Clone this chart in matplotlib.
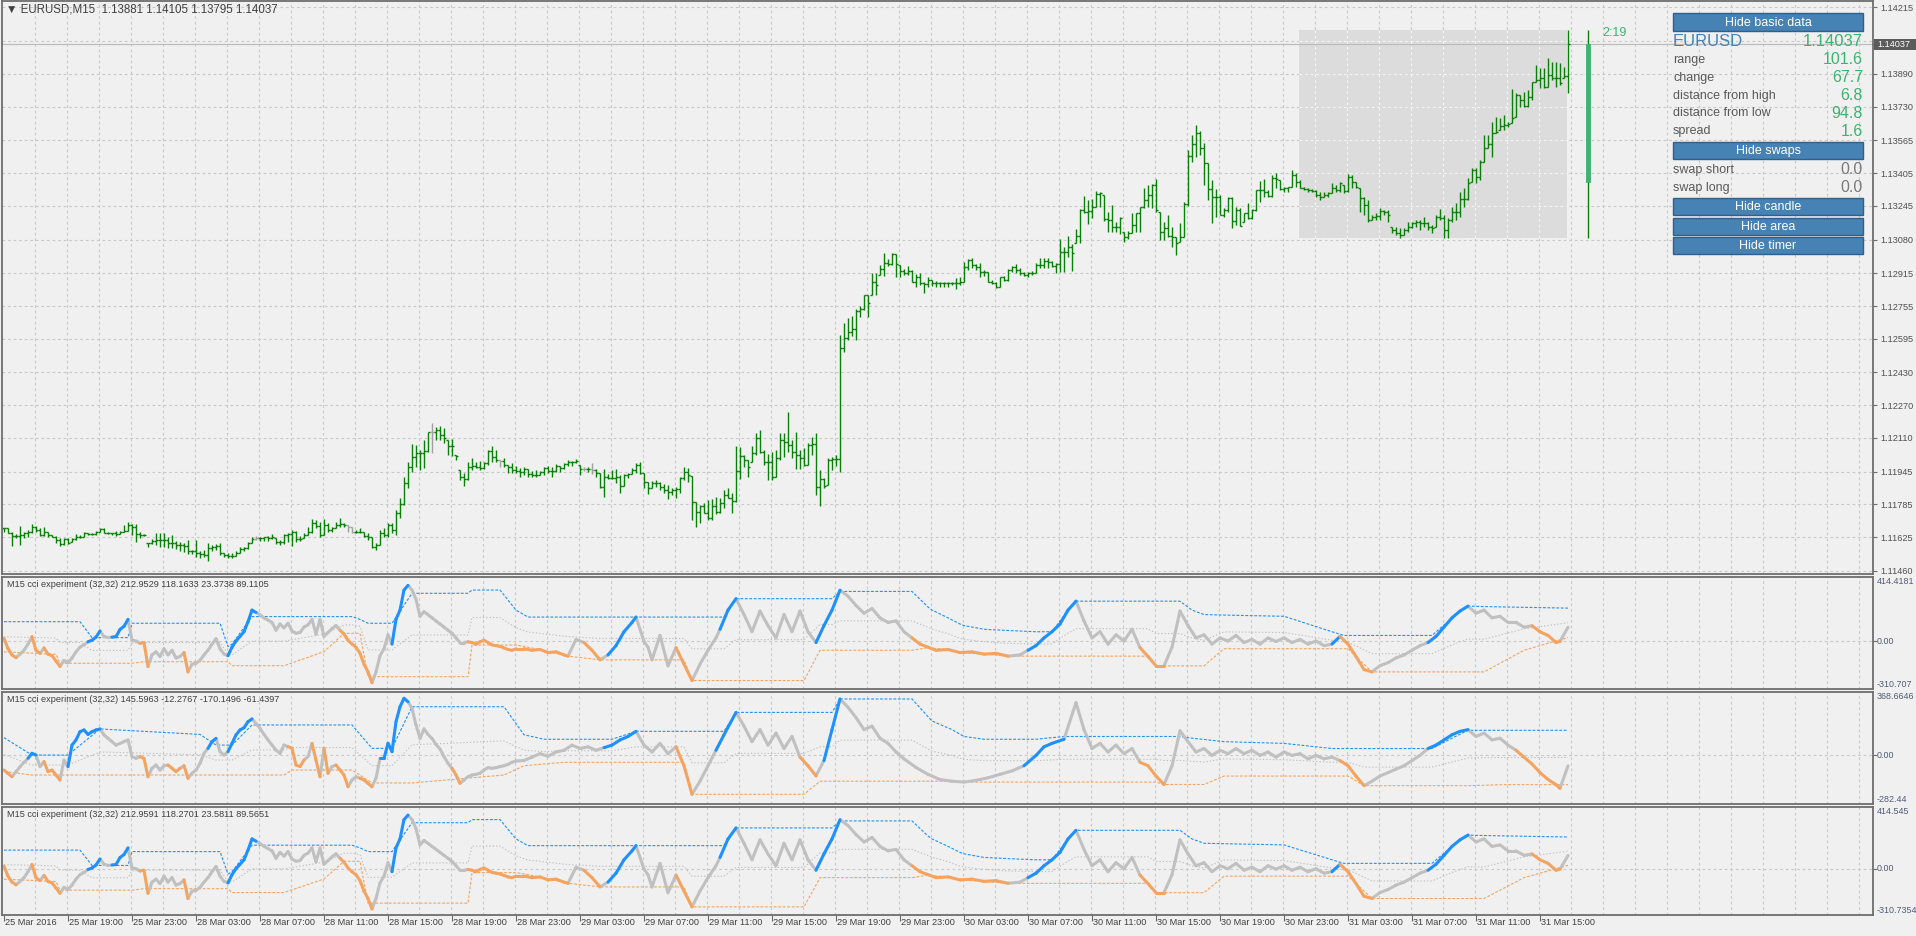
import numpy as np
import matplotlib.pyplot as plt
from matplotlib.collections import LineCollection
from matplotlib.patches import Rectangle
from matplotlib.transforms import blended_transform_factory

plt.rcParams['font.family'] = ['Liberation Sans', 'DejaVu Sans']

# ---------------- data ----------------
# EURUSD M15 bars, prices in pips above 1.1100
high = [67.2,66.9,65.2,63.9,68.0,65.2,66.0,69.0,68.0,67.2, 67.4,65.2,63.6,63.1,62.0,62.3,62.3,62.3,64.1,63.6,
        65.1,64.4,64.4,65.7,67.2,66.9,65.2,64.7,65.5,65.5, 68.5,69.9,69.0,69.0,64.9,64.1,59.8,61.5,64.4,64.4,
        64.4,62.8,63.6,60.8,60.3,59.5,61.2,56.3,61.2,55.5, 56.3,59.5,58.7,59.0,59.5,55.0,54.6,54.6,55.8,57.9,
        57.9,60.3,62.8,63.1,62.8,62.8,63.1,63.9,61.9,61.2, 64.1,64.4,66.0,65.7,63.1,64.4,67.7,71.4,70.9,70.1,
        71.6,69.3,67.7,70.1,71.7,69.6,68.5,67.4,66.0,66.9, 65.2,64.4,62.8,59.5,66.0,66.9,69.3,69.3,75.8,81.5,
        92.1,99.4,107.9,107.6,105.1,
        110.0,114.1,118.5,116.5,116.8,115.7,110.0,110.4,102.7,95.4, 94.1,99.4,101.1,99.4,99.9,99.4,105.1,107.1,105.1,100.3,
        101.1,97.8,99.0,97.3,96.2,97.0,95.7,95.0,95.4,95.0, 96.7,97.3,96.7,98.3,97.3,98.6,100.3,99.8,100.6,97.8,
        96.7,96.7,98.6,95.7,94.1,95.7,93.4,95.4,95.7,92.9, 93.4,94.1,96.2,98.6,99.4,93.7,89.6,90.2,90.5,89.6,
        88.5,88.0,86.4,86.9,92.1,97.0,96.2,92.4,79.9,78.3, 79.1,80.7,81.0,82.3,81.5,85.6,86.4,84.0,107.1,106.8,
        102.7,100.3,107.1,113.3,114.9,105.1,103.2,104.3,105.1,113.6, 113.3,123.9,110.0,114.1,105.1,106.0,108.4,111.6,113.6,95.4,
        91.3,101.1,101.6,102.7,161.3,
        167.0,
        169.5,170.6,173.9,175.5,180.9,180.9,191.5,191.5,195.6,201.3, 198.3,201.3,200.9,195.6,193.4,195.1,193.1,191.2,191.5,187.4,
        189.9,188.2,187.9,187.4,187.4,187.4,187.4,189.0,189.5,197.2, 198.3,198.8,196.1,196.7,193.1,192.3,188.2,187.4,189.9,190.2,
        193.4,195.1,196.1,193.9,192.3,192.3,192.8,196.7,198.8,198.8, 198.8,197.7,196.4,208.1,204.5,209.7,205.8,213.0,222.8,229.3,
        227.3,227.6,231.9,231.4,229.8,221.6,224.9,216.7,218.9,211.9, 212.3,220.8,220.8,224.1,233.0,234.7,235.2,237.4,221.6,216.7,
        220.0,214.3,209.4,215.9,226.5,251.8,259.1,264.0,261.2,255.0, 245.6,237.1,232.5,229.8,223.3,228.6,228.6,224.1,223.3,221.2,
        225.7,222.8,232.2,236.8,
        237.6,232.2,239.6,240.4,237.1,233.8,233.8,242.0,240.4,
        237.1,233.8,233.0,232.5,232.2,231.4,231.4,231.4,235.5,234.7, 236.3,234.7,240.0,239.5,236.3,233.0,228.9,227.3,220.0,220.8,
        223.3,222.4,222.4,214.3,214.3,213.5,213.5,216.7,216.7,217.5, 217.5,219.2,216.7,215.1,220.0,222.8,220.0,218.4,224.1,225.7,
        231.4,233.0,237.9,242.8,242.8,246.9,259.1,259.1,265.6,268.1, 267.2,268.9,265.6,281.4,279.5,278.6,280.3,281.1,285.2,293.3,
        291.7,291.7,296.6,295.0,295.0,294.1,292.5,310.5]
low = [65.2,64.4,58.4,62.0,58.7,62.0,62.8,64.7,65.2,63.3, 63.3,62.8,62.5,59.8,58.4,58.7,59.0,60.3,61.2,62.3,
       62.8,63.6,63.6,63.6,65.2,64.4,64.1,63.6,63.3,64.1, 64.9,65.7,63.6,60.3,62.3,63.3,57.6,59.2,58.7,57.9,
       57.9,57.1,57.4,56.8,55.5,55.1,54.3,54.3,52.7,52.2, 53.0,51.0,55.5,56.3,53.8,53.0,52.5,52.2,53.5,54.6,
       55.9,56.6,59.5,61.2,60.8,60.8,60.8,61.5,59.2,58.7, 59.2,60.3,58.4,60.3,60.7,62.0,63.6,64.4,66.9,62.8,
       63.6,65.2,65.2,66.9,67.7,67.7,64.9,64.4,64.4,64.7, 62.8,61.2,57.1,56.0,58.7,62.8,62.8,64.4,63.6,71.7,
       78.3,86.4,94.6,97.0,95.4,
       96.2,104.3,103.8,110.0,110.0,108.4,102.7,102.2,100.3,90.5, 87.5,90.5,95.4,96.2,95.4,95.7,97.8,99.4,99.4,96.6,
       96.6,94.1,94.1,94.1,92.1,92.9,91.8,92.1,91.8,92.9, 92.9,94.1,92.1,94.6,94.6,95.7,97.3,97.3,98.6,92.9,
       95.0,94.6,93.4,92.1,86.4,82.3,90.8,90.8,88.9,84.3, 87.5,91.3,93.4,94.1,93.3,86.4,83.5,86.4,87.2,85.6,
       84.0,81.0,83.2,81.5,84.0,90.5,89.6,71.0,67.4,69.3, 74.2,71.0,71.0,73.9,74.2,76.6,81.5,74.2,79.9,90.8,
       97.0,92.1,99.4,102.7,103.8,97.8,90.5,90.5,92.1,100.3, 101.6,104.3,101.1,95.7,95.7,97.3,97.8,102.7,83.2,77.8,
       86.4,88.0,95.4,97.3,94.6,
       153.0,
       158.9,160.9,158.9,170.3,173.6,170.0,180.9,180.9,190.7,190.2, 195.1,195.6,189.9,189.9,190.7,190.7,187.0,184.6,185.8,181.7,
       185.0,185.3,185.0,184.6,185.0,185.0,185.8,183.7,185.8,187.4, 193.1,193.9,193.1,189.9,190.2,187.4,186.3,184.5,184.6,187.9,
       187.9,192.3,191.5,190.7,190.2,189.5,190.7,191.5,193.9,193.9, 193.9,194.4,191.5,192.3,192.3,199.6,192.8,206.5,206.5,220.8,
       215.6,218.4,223.7,223.7,217.2,211.9,211.9,211.9,210.7,207.0, 208.1,211.0,211.9,211.9,223.3,223.7,223.3,221.6,207.8,207.8,
       209.1,204.2,200.5,207.0,209.1,224.4,246.1,248.2,249.3,234.7, 227.3,216.3,219.2,220.0,218.9,221.6,213.5,215.1,214.6,216.7,
       217.9,217.9,222.1,226.5,
       229.0,229.0,229.0,233.0,232.2,231.4,231.4,233.8,233.8,
       233.0,232.2,231.4,231.4,229.0,227.3,229.0,229.0,230.6,231.4, 231.4,230.6,231.4,233.0,233.0,221.6,220.0,216.7,217.5,217.5,
       217.5,220.0,216.7,211.0,210.2,208.6,210.2,211.9,213.5,214.3, 212.7,214.3,212.7,211.0,214.3,217.5,208.9,208.9,216.7,217.5,
       219.2,224.1,227.3,236.3,235.5,237.1,246.1,252.6,248.5,259.9, 261.5,261.5,263.2,264.8,268.1,272.9,272.9,272.9,276.2,285.2,
       281.9,281.9,282.7,286.0,282.7,283.5,286.8,279.5]
close = [66.9,64.7,63.1,63.1,63.6,64.4,65.2,67.7,66.0,63.6, 65.2,63.6,62.8,61.2,59.2,61.5,59.5,61.5,62.8,62.8,
         64.4,64.1,64.1,65.2,66.5,64.7,64.4,64.4,63.9,65.2, 65.5,68.5,67.7,63.9,63.6,63.6,59.5,60.8,61.2,61.2,
         61.2,59.5,59.5,58.7,58.7,58.4,55.5,55.5,54.6,54.3, 53.8,57.1,57.9,58.4,55.0,53.8,53.3,53.3,55.0,56.6,
         57.1,59.5,61.5,62.0,62.0,62.5,62.0,62.5,60.3,60.3, 63.6,63.9,65.2,61.5,61.5,63.6,65.2,69.3,68.0,63.6,
         68.5,66.0,66.9,68.5,69.0,68.5,67.7,65.2,65.2,65.2, 63.1,62.8,57.9,58.7,64.4,63.6,68.5,66.0,74.2,78.6,
         88.9,97.0,101.9,103.5,103.5,
         104.8,113.8,114.1,114.9,112.5,110.8,107.1,107.1,102.2,92.1, 90.8,97.0,97.3,97.0,96.2,98.6,104.8,101.9,100.3,99.8,
         97.8,97.0,95.4,94.9,94.6,95.7,93.3,92.9,92.9,94.6, 96.2,95.0,95.0,97.3,96.2,98.3,99.4,99.4,99.8,95.7,
         95.7,95.7,95.4,93.7,86.9,92.1,91.3,91.3,92.1,87.5, 92.9,93.4,95.4,97.8,93.7,89.6,86.4,88.9,88.9,87.2,
         85.6,84.8,85.6,85.9,91.3,94.6,92.9,79.9,75.0,77.5, 74.5,71.8,77.5,75.0,79.1,83.2,81.5,80.4,95.0,102.2,
         100.3,96.7,103.5,110.8,104.3,99.4,99.4,92.1,101.1,110.0, 109.2,107.6,104.3,102.7,101.1,97.8,107.6,108.1,87.2,90.8,
         87.5,100.3,100.6,100.6,155.0,
         160.0,
         163.0,164.1,173.2,173.9,180.9,176.8,187.4,185.8,193.4,196.7, 196.1,200.9,196.1,192.8,191.5,192.8,187.4,189.9,186.6,186.3,
         188.2,186.9,186.6,186.6,186.9,186.6,186.6,186.6,187.4,194.8, 198.0,195.6,194.8,192.3,192.3,187.4,186.9,185.0,189.9,188.2,
         193.1,194.8,193.1,191.5,190.7,191.5,191.8,195.6,195.6,197.7, 197.2,195.1,196.1,202.1,202.1,204.5,201.6,209.7,222.4,221.6,
         222.1,223.7,230.3,230.9,217.9,217.6,214.0,214.3,218.4,209.4, 211.4,215.1,220.8,223.7,227.3,229.8,234.7,222.4,211.9,213.5,
         209.7,209.4,206.5,209.1,225.4,248.8,254.7,259.9,252.6,245.6, 232.5,228.9,228.6,220.0,222.4,228.1,217.2,222.4,214.6,220.8,
         218.4,222.4,232.2,232.2,
         231.4,229.3,238.2,237.4,232.5,233.4,233.5,239.6,236.0,
         233.0,232.5,232.2,231.9,229.8,229.0,229.8,230.9,233.0,232.2, 235.8,231.9,238.7,236.3,233.5,228.1,224.9,217.5,219.2,219.5,
         222.1,221.6,220.0,212.7,211.0,210.2,212.7,214.3,215.9,216.7, 215.9,216.3,214.3,213.5,219.2,218.4,212.7,217.5,221.6,221.6,
         227.7,227.7,235.5,242.0,238.7,246.1,252.6,254.7,260.2,260.7, 263.5,264.0,264.5,267.2,278.6,276.2,273.3,277.5,285.0,286.0,
         286.8,282.4,288.4,286.8,286.8,284.3,288.1,303.7]
doji_bars = [63, 86, 87, 107, 124, 145, 147]
day_start = 324           # 31 Mar 00:00
candle_bar = 396          # day candle drawn right of the last bar

time_labels = ['25 Mar 2016', '25 Mar 19:00', '25 Mar 23:00', '28 Mar 03:00', '28 Mar 07:00',
               '28 Mar 11:00', '28 Mar 15:00', '28 Mar 19:00', '28 Mar 23:00', '29 Mar 03:00',
               '29 Mar 07:00', '29 Mar 11:00', '29 Mar 15:00', '29 Mar 19:00', '29 Mar 23:00',
               '30 Mar 03:00', '30 Mar 07:00', '30 Mar 11:00', '30 Mar 15:00', '30 Mar 19:00',
               '30 Mar 23:00', '31 Mar 03:00', '31 Mar 07:00', '31 Mar 11:00', '31 Mar 15:00']
price_ticks = [1.14215, 1.13890, 1.13730, 1.13565, 1.13405, 1.13245, 1.13080, 1.12915, 1.12755,
               1.12595, 1.12430, 1.12270, 1.12110, 1.11945, 1.11785, 1.11625, 1.11460]
hidden_grid = 1.14052
last_price = 1.14037

# CCI panel 1 (panel 3 shows practically the same values): one value per bar up to bar 128 ...
cci1_head = [17,-50,-90,-108,-85,-60,-20,28,-60,-80, -45,-85,-95,-130,-165,-125,-140,-110,-70,-40,
             -25,-5,5,25,65,30,22,25,28,75, 95,140,5,0,-15,-10,-165,-90,-70,-100,
             -50,-90,-60,-110,-100,-75,-200,-150,-145,-125, -90,-60,-20,15,-50,-85,-95,-40,0,30,
             60,125,200,185,170,150,135,120,70,110, 85,115,65,50,55,90,105,140,45,140,
             30,55,80,100,70,45,5,-20,-40,-80, -150,-200,-270,-200,-95,-50,40,-20,140,200,
             330,360,330,270,160,190,170,150,130,110, 90,70,50,20,-10,-10,-5,-10,-20,-5,
             5,-10,-25,-30,-35,-45,-55,-60,-50]
cci1_head_cols = ('goooggggoo' 'gooooggggg' 'ggbbbgggbb' 'bbgggooggg' 'ggggggoggg' 'gggggggbbb'
                  'bbbbgggggg' 'gggggggggg' 'gggggooooo' 'ooogggggbb' 'bbgggggggg' 'gggggggooo'
                  'ooooooooo')
# ... then turning points (bar, value, colour)
cci1_tail = [(130,-50,'o'),(132,-60,'o'),(134,-55,'o'),(136,-75,'o'),(138,-70,'o'),(140,-90,'o'),
             (141,-98,'o'),(143,10,'g'),(145,-10,'g'),(147,-60,'o'),(149,-122,'o'),(151,-90,'g'),
             (153,-30,'b'),(155,60,'b'),(157,120,'b'),(158,155,'b'),(160,-3,'g'),(161,-40,'g'),
             (162,-122,'g'),(164,36,'g'),(166,-161,'g'),(168,-43,'g'),(170,-150,'o'),(172,-256,'o'),
             (174,-150,'g'),(176,-60,'g'),(178,20,'g'),(179,76,'g'),(181,200,'b'),(183,274,'b'),
             (185,171,'g'),(187,60,'g'),(189,194,'g'),(191,99,'g'),(193,20,'g'),(195,171,'g'),
             (197,60,'g'),(199,194,'g'),(201,60,'g'),(203,-10,'g'),(205,100,'b'),(207,200,'b'),
             (209,329,'b'),(211,290,'g'),(213,230,'g'),(215,180,'g'),(217,210,'g'),(219,150,'g'),
             (221,120,'g'),(223,130,'g'),(225,60,'g'),(227,20,'g'),(229,-20,'o'),(231,-40,'o'),
             (233,-60,'o'),(236,-55,'o'),(239,-75,'o'),(242,-70,'o'),(245,-85,'o'),(248,-80,'o'),
             (251,-98,'o'),(254,-90,'g'),(256,-60,'g'),(258,-30,'b'),(260,20,'b'),(262,60,'b'),
             (264,110,'b'),(266,200,'b'),(268,258,'b'),(270,130,'g'),(272,20,'g'),(274,60,'g'),
             (276,-20,'g'),(278,40,'g'),(280,0,'g'),(282,76,'g'),(284,-43,'g'),(286,-100,'o'),
             (288,-161,'o'),(290,-161,'o'),(292,-40,'g'),(294,194,'g'),(296,100,'g'),(298,20,'g'),
             (300,40,'g'),(302,-20,'g'),(304,20,'g'),(306,0,'g'),(308,36,'g'),(310,-10,'g'),
             (312,10,'g'),(314,-20,'g'),(316,20,'g'),(318,-3,'g'),(320,20,'g'),(322,-10,'g'),
             (324,10,'g'),(326,-20,'g'),(328,0,'g'),(330,-30,'g'),(332,-20,'g'),(334,30,'b'),
             (336,-20,'o'),(338,-100,'o'),(340,-185,'o'),(342,-200,'o'),(344,-160,'g'),(346,-140,'g'),
             (348,-110,'g'),(350,-90,'g'),(352,-60,'g'),(354,-30,'g'),(356,-10,'g'),(358,30,'b'),
             (360,90,'b'),(362,150,'b'),(364,194,'b'),(366,226,'b'),(368,180,'g'),(370,200,'g'),
             (372,150,'g'),(374,160,'g'),(376,120,'g'),(378,120,'g'),(380,90,'g'),(382,99,'g'),
             (384,60,'o'),(386,36,'o'),(388,-10,'o'),(389,-3,'o'),(391,89,'g')]
# bands of panel 1: (bar, upper, lower)
band1 = [(0,125,-70),(13,125,-86),(14,125,-144),(19,125,-144),(22,22,-144),(31,22,-144),(32,115,-144),
         (35,115,-134),(54,115,-134),(56,-36,-134),(57,-20,-160),(62,158,-160),(70,158,-160),(80,158,-69),
         (85,158,50),(87,158,50),(89,140,50),(91,115,-231),(97,115,-231),(102,309,-231),(116,309,-231),
         (117,330,-26),(124,330,-26),(128,200,-26),(131,155,-40),(133,155,-50),(141,155,-98),(149,155,-122),
         (158,155,-122),(170,155,-122),(172,155,-256),(180,155,-256),(183,274,-256),(200,274,-256),
         (204,274,-60),(207,274,-60),(209,321,-60),(227,321,-60),(231,220,-43),(232,200,-46),(236,150,-55),
         (239,110,-75),(240,100,-77),(245,76,-85),(251,68,-98),(258,60,-98),(262,60,-98),(266,200,-98),
         (268,258,-98),(286,258,-98),(288,258,-161),(294,258,-161),(297,200,-161),(300,171,-161),
         (305,168,-50),(320,160,-50),(332,60,-50),(335,36,-50),(336,36,-50),(338,36,-100),(342,36,-200),
         (357,36,-200),(362,150,-200),(366,226,-200),(370,223,-200),(380,218,-60),(391,213,23)]

# CCI panel 2
cci2_head = [-85,-105,-124,-95,-66,-40,-17,12,2,-65, -36,-94,-85,-114,-143,-27,-65,60,90,138,
             148,122,138,148,154,119,99,80,60,70, 80,90,-7,-17,-7,-17,-124,-75,-56,-85,
             -60,-56,-75,-94,-75,-60,-133,-104,-85,-46, 12,41,80,99,22,2,22,70,119,148,
             161,196,212,186,157,122,90,60,31,12, 60,51,41,-56,-65,-27,-7,70,-27,-124,
             41,-104,-65,-56,-85,-114,-182,-143,-124,-133, -143,-162,-182,-133,-17,-17,70,22,196,283,
             332,312,274,177,99,154,122,99,64,37, -7,-46,-75,-114,-162,-143,-124,-114,-110,-104,
             -85,-71,-75,-71,-65,-60,-52,-40,-32]
cci2_head_cols = ('googgggbbg' 'gooooggbbb' 'bbbbbggggg' 'gggggooggg' 'ggooogoggg' 'ggbbgggbbb'
                  'bbbggggggg' 'ggooooggoo' 'goggoooggg' 'oooggbbbbb' 'bbgggggggg' 'gggooggggg'
                  'ggggggggg')
cci2_tail = [(130,-30,'g'),(132,-10,'g'),(134,10,'g'),(136,-5,'g'),(138,20,'g'),(140,30,'g'),
             (142,60,'g'),(144,40,'g'),(146,50,'g'),(148,30,'g'),(150,45,'g'),(152,60,'b'),
             (154,90,'b'),(156,110,'b'),(158,140,'b'),(160,60,'g'),(162,20,'g'),(164,70,'g'),
             (166,10,'g'),(168,50,'g'),(170,-60,'o'),(172,-226,'o'),(174,-150,'g'),(176,-60,'g'),
             (178,30,'g'),(180,120,'b'),(183,250,'b'),(185,170,'g'),(187,80,'g'),(189,150,'g'),
             (191,60,'g'),(193,130,'g'),(195,40,'g'),(197,110,'g'),(199,-10,'g'),(201,-60,'o'),
             (203,-119,'o'),(205,-30,'g'),(207,150,'b'),(209,328,'b'),(211,280,'g'),(213,220,'g'),
             (215,150,'g'),(217,170,'g'),(219,100,'g'),(221,70,'g'),(223,20,'g'),(225,-20,'g'),
             (228,-70,'g'),(231,-110,'g'),(234,-140,'g'),(237,-150,'g'),(240,-155,'g'),(243,-145,'g'),
             (246,-130,'g'),(249,-110,'g'),(252,-90,'g'),(255,-60,'g'),(258,0,'b'),(260,50,'b'),
             (262,70,'b'),(265,94,'b'),(268,307,'g'),(270,150,'g'),(272,40,'g'),(274,70,'g'),
             (276,20,'g'),(278,60,'g'),(280,10,'g'),(282,40,'g'),(284,-40,'g'),(286,-60,'o'),
             (288,-120,'o'),(290,-169,'o'),(292,-60,'g'),(294,143,'g'),(296,80,'g'),(298,20,'g'),
             (300,40,'g'),(302,0,'g'),(304,30,'g'),(306,10,'g'),(308,40,'g'),(310,10,'g'),
             (312,30,'g'),(314,0,'g'),(316,20,'g'),(318,-10,'g'),(320,20,'g'),(322,0,'g'),
             (324,10,'g'),(326,-20,'g'),(328,0,'g'),(330,-20,'g'),(332,-10,'g'),(334,-30,'g'),
             (336,-60,'o'),(338,-120,'o'),(340,-176,'o'),(342,-150,'g'),(344,-120,'g'),(346,-100,'g'),
             (348,-80,'g'),(350,-60,'g'),(352,-30,'g'),(354,0,'g'),(356,40,'g'),(358,60,'b'),
             (360,90,'b'),(362,120,'b'),(364,140,'b'),(366,150,'b'),(368,110,'g'),(370,130,'g'),
             (372,90,'g'),(374,100,'g'),(376,60,'g'),(378,30,'g'),(380,-10,'o'),(382,-50,'o'),
             (384,-100,'o'),(386,-140,'o'),(388,-170,'o'),(389,-191,'o'),(391,-61,'g')]
band2 = [(0,103,-94),(7,2,-114),(16,2,-114),(24,154,-114),(49,122,-114),(53,60,-114),(57,60,-114),
         (62,177,-114),(70,177,-114),(72,177,-85),(87,177,-85),(92,41,-160),(97,41,-160),(102,283,-160),
         (125,283,-114),(130,120,-60),(135,94,-50),(140,94,-40),(152,94,-40),(158,140,-40),(170,140,-40),
         (172,140,-226),(180,140,-226),(183,250,-226),(200,250,-226),(204,250,-150),(207,250,-150),
         (209,328,-150),(225,328,-150),(227,328,-150),(232,200,-150),(237,150,-150),(240,110,-155),
         (245,94,-155),(258,94,-155),(265,110,-155),(288,110,-155),(290,110,-169),(294,110,-169),
         (297,100,-169),(300,93,-169),(305,80,-120),(320,70,-120),(332,40,-120),(336,40,-120),
         (340,40,-176),(357,40,-176),(362,100,-176),(366,146,-176),(375,146,-170),(391,146,-170)]

panel_titles = ['M15 cci experiment (32,32) 212.9529 118.1633 23.3738 89.1105',
                'M15 cci experiment (32,32) 145.5963 -12.2767 -170.1496 -61.4397',
                'M15 cci experiment (32,32) 212.9591 118.2701 23.5811 89.5651']
panel_ranges = [(-310.707, 414.4181), (-282.44, 368.6646), (-310.7354, 414.545)]
panel_max_text = ['414.4181', '368.6646', '414.545']
panel_min_text = ['-310.707', '-282.44', '-310.7354']

info_labels = ['range', 'change', 'distance from high', 'distance from low', 'spread']
info_values = ['101.6', '67.7', '6.8', '94.8', '1.6']
swap_labels = ['swap short', 'swap long']
swap_values = ['0.0', '0.0']
timer_text = '2:19'

# ---------------- style ----------------
W, H = 1916, 936
BG = '#f0f0f0'
GRID = '#c9c9c9'
FRAME = '#6e6e6e'
BARC = '#0a7d0a'
TXT = '#505050'
BLUE = '#1e90ff'
ORANGE = '#f4a460'
GREY = '#c0c0c0'
GREEN = '#3cb371'
STEEL = '#4682b4'
colmap = {'g': GREY, 'b': BLUE, 'o': ORANGE}
FS = 6.6
XMIN, XMAX = -0.5, 467.25
DASH = (0, (2.5, 2.5))

fig = plt.figure(figsize=(W / 100, H / 100), dpi=100, facecolor=BG)


def rect(x0, y0, x1, y1):
    return [x0 / W, 1 - y1 / H, (x1 - x0) / W, (y1 - y0) / H]


def ftext(x, y, s, **kw):
    fig.text(x / W, 1 - y / H, s, **kw)


vgrid = np.arange(8, XMAX, 8) - 0.25


def frame(ax):
    ax.set_facecolor(BG)
    for sp in ax.spines.values():
        sp.set_color(FRAME)
        sp.set_linewidth(1.3)
    ax.set_xlim(XMIN, XMAX)
    for b in vgrid:
        ax.axvline(b, color=GRID, lw=0.8, ls=DASH, zorder=0.2)
    ax.tick_params(axis='x', bottom=False, labelbottom=False)


# ---------------- main price panel ----------------
ax = fig.add_axes(rect(2, 1, 1873, 574))
frame(ax)
ax.set_ylim(1.11445, 1.14246)
ax.yaxis.tick_right()
ax.set_yticks(price_ticks)
ax.set_yticklabels([f'{p:.5f}' for p in price_ticks])
ax.tick_params(axis='y', length=3, width=0.8, color=FRAME, labelsize=FS, labelcolor=TXT, pad=2)
for p in price_ticks + [hidden_grid]:
    ax.axhline(p, color=GRID, lw=0.8, ls=DASH, zorder=0.2)

hi = 1.11 + np.array(high) / 1e4
lo = 1.11 + np.array(low) / 1e4
cl = 1.11 + np.array(close) / 1e4
op = np.clip(np.r_[cl[0], cl[:-1]], lo, hi)
n = len(cl)

# current-day area, grid shows through it in a light tone
d_hi, d_lo = hi[day_start:].max(), lo[day_start:].min()
bx0, bx1 = day_start - 0.3, n - 1 - 0.2
ax.add_patch(Rectangle((bx0, d_lo), bx1 - bx0, d_hi - d_lo,
                       facecolor='#dcdcdc', edgecolor='none', zorder=0.5))
for b in vgrid[(vgrid > bx0) & (vgrid < bx1)]:
    ax.vlines(b, d_lo, d_hi, color='#f4f4f4', lw=0.8, ls=DASH, zorder=0.55)
for p in price_ticks + [hidden_grid]:
    if d_lo < p < d_hi:
        ax.hlines(p, bx0, bx1, color='#f4f4f4', lw=0.8, ls=DASH, zorder=0.55)
ax.axhline(last_price, color='#bdbdbd', lw=0.9, zorder=0.6)

segs, cols = [], []
for k in range(n):
    c = '#a0a0a0' if k in doji_bars else BARC
    segs += [[(k, lo[k]), (k, hi[k])], [(k - 0.45, op[k]), (k, op[k])], [(k, cl[k]), (k + 0.45, cl[k])]]
    cols += [c, c, c]
ax.add_collection(LineCollection(segs, colors=cols, linewidths=1.0, zorder=2))

# day candle and timer
ax.vlines(candle_bar, d_lo, d_hi, color=BARC, lw=1.0, zorder=2)
d_open = op[day_start]
ax.add_patch(Rectangle((candle_bar - 0.4, d_open), 0.8, cl[-1] - d_open,
                       facecolor=GREEN, edgecolor=GREEN, lw=0.6, zorder=2))
ax.text(candle_bar + 3.7, d_hi - 0.00016, timer_text, color=GREEN, fontsize=9, va='center', ha='left')

ax.annotate('\u25bc EURUSD,M15  1.13881 1.14105 1.13795 1.14037', xy=(0, 1), xycoords='axes fraction',
            xytext=(4, -3), textcoords='offset pixels', va='top', ha='left', fontsize=8.3, color='#404040')

# price tag on the axis
fig.add_artist(Rectangle((1874 / W, 1 - 50 / H), 42 / W, 11 / H, transform=fig.transFigure,
                         facecolor='#5c5c5c', edgecolor='none'))
ftext(1877, 44.5, f'{last_price:.5f}', color='white', fontsize=FS, va='center', ha='left')

# info block with buttons
BX0, BX1 = 1673, 1863


def button(y0, y1, s):
    fig.add_artist(Rectangle((BX0 / W, 1 - y1 / H), (BX1 - BX0) / W, (y1 - y0) / H,
                             transform=fig.transFigure, facecolor=STEEL, edgecolor='#2f5f8c', lw=1.0))
    ftext((BX0 + BX1) / 2, (y0 + y1) / 2 + 0.5, s, color='white', fontsize=9, ha='center', va='center')


button(13, 31, 'Hide basic data')
ftext(BX0, 42, 'EURUSD', color=STEEL, fontsize=12, va='center')
ftext(BX1, 42, f'{last_price:.5f}', color=GREEN, fontsize=12, va='center', ha='right')
for i, (lab, val) in enumerate(zip(info_labels, info_values)):
    y = 60 + i * 17.8
    ftext(BX0, y, lab, color='#5a5a5a', fontsize=9, va='center')
    ftext(BX1, y, val, color=GREEN, fontsize=11.5, va='center', ha='right')
button(142, 159, 'Hide swaps')
for i, (lab, val) in enumerate(zip(swap_labels, swap_values)):
    y = 170 + i * 18
    ftext(BX0, y, lab, color='#5a5a5a', fontsize=9, va='center')
    ftext(BX1, y, val, color='#7a7a7a', fontsize=11.5, va='center', ha='right')
button(198, 215, 'Hide candle')
button(218, 235, 'Hide area')
button(237, 254, 'Hide timer')


# ---------------- CCI panels ----------------
def cci_series(head, head_cols, tail):
    bars = list(range(len(head))) + [t[0] for t in tail]
    vals = list(head) + [t[1] for t in tail]
    cc = head_cols + ''.join(t[2] for t in tail)
    return bars, vals, cc


def band_series(band):
    bb = [b[0] for b in band]
    up = [b[1] for b in band]
    dn = [b[2] for b in band]
    mid = [(u + d) / 2 for u, d in zip(up, dn)]
    return bb, up, mid, dn


s1 = cci_series(cci1_head, cci1_head_cols, cci1_tail) + band_series(band1)
s2 = cci_series(cci2_head, cci2_head_cols, cci2_tail) + band_series(band2)
panel_px = [(577, 689), (692, 804), (807, 915)]
cci_sets = [s1, s2, s1]

for i, (y0, y1) in enumerate(panel_px):
    bars, vals, cc, bb, up, mid, dn = cci_sets[i]
    pax = fig.add_axes(rect(2, y0, 1873, y1))
    frame(pax)
    vmin, vmax = panel_ranges[i]
    pax.set_ylim(vmin, vmax)
    pax.yaxis.tick_right()
    pax.set_yticks([0])
    pax.set_yticklabels([''])
    pax.tick_params(axis='y', length=3, width=0.8, color=FRAME)
    pax.axhline(0, color=GRID, lw=0.8, ls=DASH, zorder=0.3)

    pax.plot(bb, mid, color=GREY, lw=0.8, ls=(0, (1.2, 1.8)), zorder=1)
    pax.plot(bb, up, color=BLUE, lw=0.8, ls=(0, (2.5, 1.5)), zorder=1)
    pax.plot(bb, dn, color=ORANGE, lw=0.8, ls=(0, (2.5, 1.5)), zorder=1)

    pts = np.column_stack([bars, vals]).astype(float)
    seg = np.stack([pts[:-1], pts[1:]], axis=1)
    scol = [colmap[c] for c in cc[1:]]
    order = np.argsort([c != 'g' for c in cc[1:]], kind='stable')
    pax.add_collection(LineCollection(seg[order], colors=[scol[j] for j in order],
                                      linewidths=2.2, capstyle='round', joinstyle='round', zorder=2))

    pax.annotate(panel_titles[i], xy=(0, 1), xycoords='axes fraction', xytext=(5, -3),
                 textcoords='offset pixels', va='top', ha='left', fontsize=FS, color='#404040')
    tr = blended_transform_factory(pax.transAxes, pax.transData)
    lab_c = '#4f5b74'
    pax.text(1.0018, vmax, panel_max_text[i], transform=tr, fontsize=6.4, color=lab_c, va='top', ha='left')
    pax.text(1.0018, 0, '0.00', transform=tr, fontsize=6.4, color=lab_c, va='center', ha='left')
    pax.text(1.0018, vmin, panel_min_text[i], transform=tr, fontsize=6.4, color=lab_c, va='bottom', ha='left')

    if i == 2:
        ticks = np.arange(len(time_labels)) * 16
        pax.set_xticks(ticks)
        pax.tick_params(axis='x', bottom=True, length=4, width=0.8, color=FRAME, labelbottom=False)
        trx = blended_transform_factory(pax.transData, pax.transAxes)
        for t, s in zip(ticks, time_labels):
            pax.text(t + 0.3, -0.03, s, transform=trx, fontsize=FS, color='#404040', va='top', ha='left')

fig.savefig('out.png', dpi=100, facecolor=BG)
